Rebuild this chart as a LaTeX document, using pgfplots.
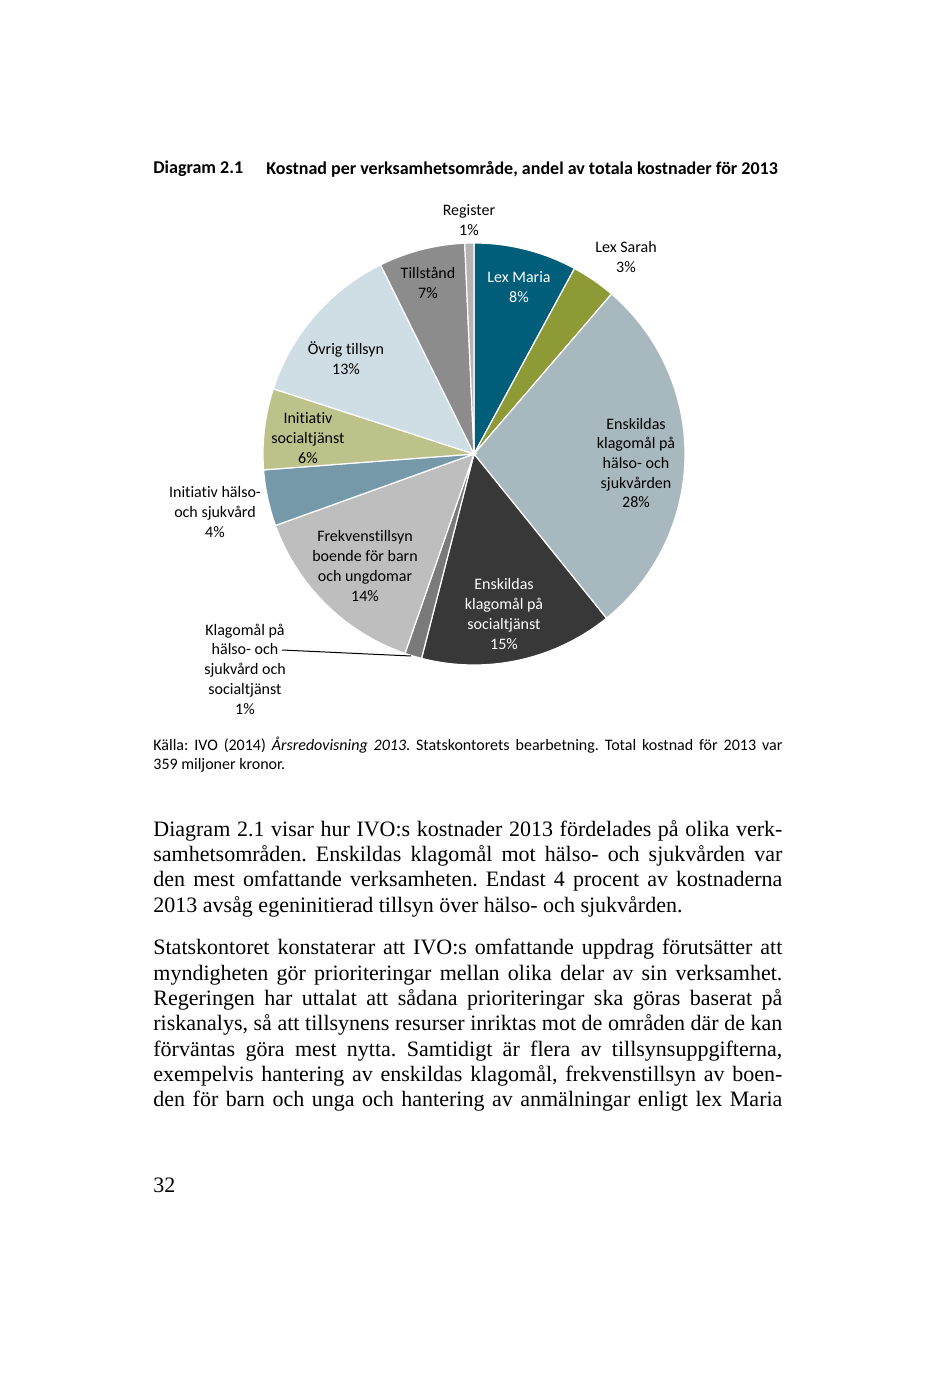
\documentclass[border=0pt]{standalone}
\usepackage{pgfplots}
\usepackage{pgfplotstable}
\pgfplotsset{compat=1.18}
\usepackage{fontspec}
\setmainfont{Liberation Serif}
\newfontfamily\calfont[Ligatures=NoCommon]{Carlito}
\frenchspacing

\definecolor{cMaria}{HTML}{005E7A}
\definecolor{cSarah}{HTML}{8E9A35}
\definecolor{cEnsHS}{HTML}{A7B9BF}
\definecolor{cEnsSoc}{HTML}{383838}
\definecolor{cKlag}{HTML}{7A7A7A}
\definecolor{cFrek}{HTML}{BEBEBE}
\definecolor{cInitHS}{HTML}{7599A9}
\definecolor{cInitSoc}{HTML}{BDC28B}
\definecolor{cOvrig}{HTML}{CFDEE5}
\definecolor{cTill}{HTML}{8C8C8C}
\definecolor{cReg}{HTML}{B4B4B4}

% andel i procent, medurs fran klockan tolv
\pgfplotstableread[col sep=comma]{
val,col
7.9,cMaria
3.4,cSarah
27.9,cEnsHS
14.8,cEnsSoc
1.3,cKlag
14.2,cFrek
4.3,cInitHS
6.2,cInitSoc
12.7,cOvrig
6.6,cTill
0.7,cReg
}\pie

\begin{document}
\begin{tikzpicture}[x=0.5pt,y=-0.5pt]
  \path[use as bounding box,fill=white] (0,0) rectangle (934,1374);

  \node[anchor=west,inner sep=0,font=\calfont\bfseries\fontsize{9}{11}\selectfont] at (153,169) {Diagram 2.1};
  \node[anchor=west,inner sep=0,font=\calfont\bfseries\fontsize{9}{11}\selectfont] at (266,169) {Kostnad per verksamhetsområde, andel av totala kostnader för 2013};

  \begin{axis}[
    at={(237pt,-227pt)}, anchor=center,
    x=105.5pt, y=105.5pt,
    xmin=-1.2, xmax=1.2, ymin=-1.2, ymax=1.2,
    hide axis, clip=false
  ]
    \def\cum{0}
    \pgfplotsforeachungrouped \i in {0,...,10}{%
      \pgfplotstablegetelem{\i}{val}\of\pie \let\v\pgfplotsretval
      \pgfplotstablegetelem{\i}{col}\of\pie \let\c\pgfplotsretval
      \pgfmathsetmacro\a{90-3.6*\cum}%
      \pgfmathsetmacro\b{90-3.6*(\cum+\v)}%
      \pgfmathsetmacro\cum{\cum+\v}%
      \edef\slice{\noexpand\filldraw[fill=\c,draw=white,line width=0.6pt]
        (axis cs:0,0) -- (axis cs:{cos(\a)},{sin(\a)})
        arc[start angle=\a,end angle=\b,radius=105.5pt] -- cycle;}%
      \slice
    }
  \end{axis}

  \begin{scope}[every node/.style={align=center,inner sep=0,font=\calfont\fontsize{8}{9.85}\selectfont}]
    \node at (469,220) {Register\\1\%};
    \node at (626,257) {Lex Sarah\\3\%};
    \node[text=white] at (519,287) {Lex Maria\\8\%};
    \node at (428,283) {Tillstånd\\7\%};
    \node at (346,358) {Övrig tillsyn\\13\%};
    \node at (636,463) {Enskildas\\klagomål på\\hälso- och\\sjukvården\\28\%};
    \node at (308,438) {Initiativ\\socialtjänst\\6\%};
    \node at (215,512) {Initiativ hälso-\\och sjukvård\\4\%};
    \node at (365,566) {Frekvenstillsyn\\boende för barn\\och ungdomar\\14\%};
    \node[text=white] at (504,614) {Enskildas\\klagomål på\\socialtjänst\\15\%};
    \node at (245,669) {Klagomål på\\hälso- och\\sjukvård och\\socialtjänst\\1\%};
  \end{scope}
  \draw[line width=0.5pt] (282,650) -- (411,656);

  \node[anchor=north west,inner sep=0,text width=314.5pt,align=justify,
        font=\calfont\fontsize{8}{9.5}\selectfont] at (153,737)
    {Källa: IVO (2014) \textit{Årsredovisning 2013}. Statskontorets bearbetning. Total kostnad för 2013 var\linebreak 359 miljoner kronor.};

  \node[anchor=north west,inner sep=0,text width=314.5pt,align=justify,
        font=\fontsize{11}{12.65}\selectfont] at (153,820)
    {Diagram 2.1 visar hur IVO:s kostnader 2013 fördelades på olika verk-\linebreak
     samhetsområden. Enskildas klagomål mot hälso- och sjukvården var\linebreak
     den mest omfattande verksamheten. Endast 4 procent av kostnaderna\linebreak
     2013 avsåg egeninitierad tillsyn över hälso- och sjukvården.};

  \node[anchor=north west,inner sep=0,text width=314.5pt,align=justify,
        font=\fontsize{11}{12.65}\selectfont] at (153,939)
    {Statskontoret konstaterar att IVO:s omfattande uppdrag förutsätter att\linebreak
     myndigheten gör prioriteringar mellan olika delar av sin verksamhet.\linebreak
     Regeringen har uttalat att sådana prioriteringar ska göras baserat på\linebreak
     riskanalys, så att tillsynens resurser inriktas mot de områden där de kan\linebreak
     förväntas göra mest nytta. Samtidigt är flera av tillsynsuppgifterna,\linebreak
     exempelvis hantering av enskildas klagomål, frekvenstillsyn av boen-\linebreak
     den för barn och unga och hantering av anmälningar enligt lex Maria\parfillskip=0pt\par};

  \node[anchor=west,inner sep=0,font=\fontsize{11}{13}\selectfont] at (153,1185) {32};
\end{tikzpicture}
\end{document}
